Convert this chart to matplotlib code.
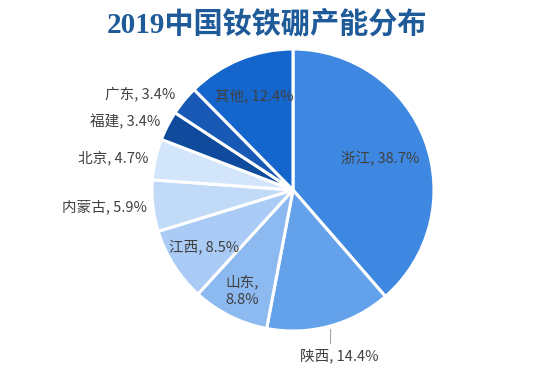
import numpy as np
import matplotlib
matplotlib.use("Agg")
import matplotlib.pyplot as plt

plt.rcParams["font.family"] = ["Noto Sans CJK SC", "DejaVu Sans"]

# data
regions = ["浙江", "陕西", "山东", "江西", "内蒙古", "北京", "福建", "广东", "其他"]
shares = [38.7, 14.4, 8.8, 8.5, 5.9, 4.7, 3.4, 3.4, 12.4]
colors = ["#3e88e2", "#63a1ea", "#8cb9f0", "#a9cbf5", "#c1daf8",
          "#d2e5fa", "#0f4a9c", "#1859b6", "#1566cc"]

# label placement: radius (in pie radii) and horizontal alignment
label_r = [0.66, 1.22, 0.80, 0.75, 1.04, 1.05, 1.06, 1.08, 0.72]
label_ha = ["center", "center", "center", "center", "right", "right", "right", "right", "center"]

fig = plt.figure(figsize=(5.38, 3.75), dpi=100)
ax = fig.add_axes([0, 0, 1, 1])

wedges, _ = ax.pie(shares, colors=colors, startangle=90, counterclock=False,
                   radius=1.0, wedgeprops=dict(edgecolor="white", linewidth=2.2))

cx, cy, R = 293, 190, 141
ax.set_xlim(-cx / R, (538 - cx) / R)
ax.set_ylim(-(375 - cy) / R, cy / R)
ax.axis("off")

for w, name, val, r, ha in zip(wedges, regions, shares, label_r, label_ha):
    mid = np.deg2rad((w.theta1 + w.theta2) / 2)
    x, y = r * np.cos(mid), r * np.sin(mid)
    if name == "山东":
        txt = f"{name},\n{val}%"
    else:
        txt = f"{name}, {val}%"
    if name == "陕西":
        ex, ey = np.cos(mid), np.sin(mid)
        ax.plot([ex, ex], [ey - 0.02, y + 0.09], color="#a6a6a6", lw=0.8)
        x = ex + 0.07
    ax.text(x, y, txt, ha=ha, va="center", fontsize=10.5, color="#404040",
            linespacing=1.3)

fig.text(0.497, 0.935, "2019中国钕铁硼产能分布", ha="center", va="center",
         fontsize=21, fontweight="bold", color="#1f5b99",
         family=["Liberation Serif", "Noto Sans CJK SC"])

fig.savefig("out.png", dpi=100)
